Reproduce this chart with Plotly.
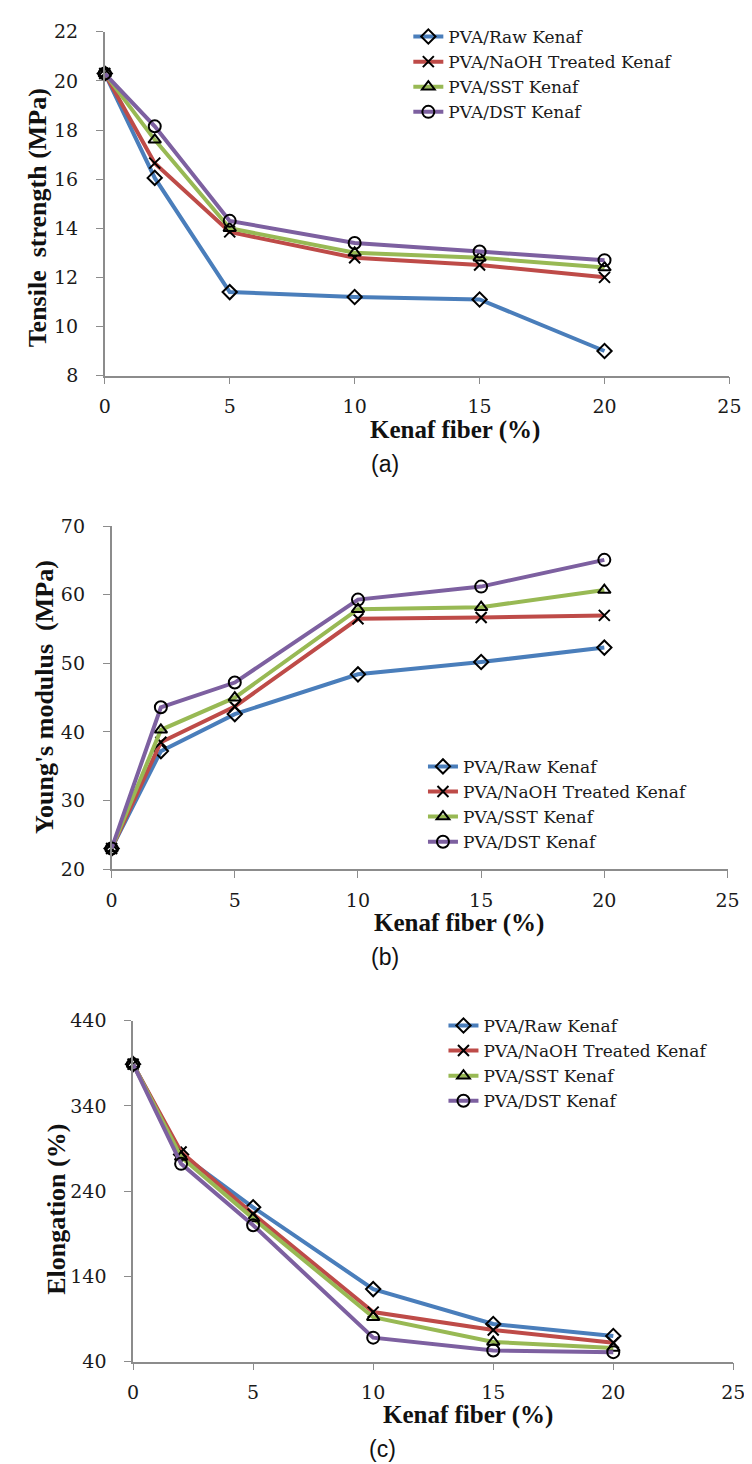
import plotly.graph_objects as go

W, H = 752, 1464

# ---------------- data ----------------
fiber = [0, 2, 5, 10, 15, 20]
series_names = ["PVA/Raw Kenaf", "PVA/NaOH Treated Kenaf", "PVA/SST Kenaf", "PVA/DST Kenaf"]

ts_raw = [20.3, 16.05, 11.4, 11.2, 11.1, 9.0]
ts_naoh = [20.3, 16.65, 13.85, 12.8, 12.5, 12.0]
ts_sst = [20.3, 17.6, 14.0, 13.0, 12.8, 12.4]
ts_dst = [20.3, 18.15, 14.3, 13.4, 13.05, 12.7]

ym_raw = [23.0, 37.2, 42.6, 48.4, 50.2, 52.3]
ym_naoh = [23.0, 38.5, 43.7, 56.5, 56.7, 57.0]
ym_sst = [23.0, 40.3, 45.0, 57.9, 58.2, 60.7]
ym_dst = [23.0, 43.6, 47.2, 59.3, 61.2, 65.1]

el_raw = [389, 283, 221, 125, 84, 70]
el_naoh = [389, 286, 213, 98, 77, 62]
el_sst = [389, 280, 208, 92, 63, 56]
el_dst = [389, 272, 200, 68, 53, 51]

x_ticks = [0, 5, 10, 15, 20, 25]
ts_ticks = [8, 10, 12, 14, 16, 18, 20, 22]
ym_ticks = [20, 30, 40, 50, 60, 70]
el_ticks = [40, 140, 240, 340, 440]

y_titles = ["Tensile  strength (MPa)", "Young's modulus  (MPa)", "Elongation (%)"]
x_title = "Kenaf fiber (%)"
panel_labels = ["(a)", "(b)", "(c)"]

# ---------------- style ----------------
colors = ["#4A7EBB", "#BE4B48", "#98B954", "#7D60A0"]
symbols = ["diamond-open", "x-thin-open", "triangle-up-open", "circle-open"]
msizes = [11, 11, 11, 12]
axis_col = "#8C8C8C"
tick_font = dict(family="DejaVu Serif", size=19, color="#1a1a1a")
ytitle_font = dict(family="Liberation Serif", size=26, color="#111111", weight="bold")
xtitle_font = dict(family="Liberation Serif", size=25, color="#111111", weight="bold")
legend_font = dict(family="DejaVu Serif", size=17, color="#1a1a1a")
label_font = dict(family="Liberation Sans", size=23, color="#111111")


def fx(px):
    return px / W


def fy(py):
    return 1 - py / H


# pixel boxes: (x_left, x_right, y_top, y_bottom)
boxes = [(93, 733, 13, 362), (100, 731, 515, 863), (122, 737, 1017, 1363)]
yranges = [[8, 22], [20, 70], [40, 440]]
yticks = [ts_ticks, ym_ticks, el_ticks]
panel_data = [
    [ts_raw, ts_naoh, ts_sst, ts_dst],
    [ym_raw, ym_naoh, ym_sst, ym_dst],
    [el_raw, el_naoh, el_sst, el_dst],
]
legend_pos = [(404, 0), (419, 741), (440, 1004)]
ytitle_pos = [(25, 202), (31, 688), (44, 1208)]
xtitle_pos = [(452, 417), (456, 918), (465, 1417)]
label_pos = [(380, 452), (380, 952), (378, 1452)]

fig = go.Figure()
layout = dict(
    width=W, height=H,
    margin=dict(l=0, r=0, t=0, b=0),
    paper_bgcolor="white", plot_bgcolor="white",
    showlegend=True,
    annotations=[],
)

for p in range(3):
    sfx = "" if p == 0 else str(p + 1)
    xa, ya = "x" + sfx, "y" + sfx
    lg = "legend" + sfx
    for i in range(4):
        fig.add_trace(go.Scatter(
            x=fiber, y=panel_data[p][i], name=series_names[i],
            mode="lines+markers", xaxis=xa, yaxis=ya, legend=lg,
            line=dict(color=colors[i], width=4),
            marker=dict(symbol=symbols[i], size=msizes[i], color="black",
                        line=dict(color="black", width=2)),
            cliponaxis=False,
        ))
    xl, xr, yt, yb = boxes[p]
    layout["xaxis" + sfx] = dict(
        domain=[fx(xl), fx(xr)], anchor=ya, range=[0, 25],
        tickvals=x_ticks, ticks="outside", ticklen=7, tickwidth=1.3,
        tickcolor=axis_col, showline=True, linecolor=axis_col, linewidth=1.5,
        showgrid=False, zeroline=False, tickfont=tick_font, ticklabelstandoff=6,
    )
    layout["yaxis" + sfx] = dict(
        domain=[fy(yb), fy(yt)], anchor=xa, range=yranges[p],
        tickvals=yticks[p], ticks="outside", ticklen=7, tickwidth=1.3,
        tickcolor=axis_col, showline=True, linecolor=axis_col, linewidth=1.5,
        showgrid=False, zeroline=False, tickfont=tick_font, ticklabelstandoff=14,
    )
    lx, ly = legend_pos[p]
    layout[lg] = dict(
        x=fx(lx), y=fy(ly), xanchor="left", yanchor="top",
        bgcolor="rgba(0,0,0,0)", font=legend_font, itemwidth=30,
        tracegroupgap=0,
    )
    tx, ty = ytitle_pos[p]
    layout["annotations"].append(dict(
        text="<b>%s</b>" % y_titles[p], x=fx(tx), y=fy(ty), xref="paper", yref="paper",
        xanchor="center", yanchor="middle", textangle=-90, showarrow=False,
        font=ytitle_font,
    ))
    tx, ty = xtitle_pos[p]
    layout["annotations"].append(dict(
        text="<b>%s</b>" % x_title, x=fx(tx), y=fy(ty), xref="paper", yref="paper",
        xanchor="center", yanchor="middle", showarrow=False, font=xtitle_font,
    ))
    tx, ty = label_pos[p]
    layout["annotations"].append(dict(
        text=panel_labels[p], x=fx(tx), y=fy(ty), xref="paper", yref="paper",
        xanchor="center", yanchor="middle", showarrow=False, font=label_font,
    ))

fig.update_layout(**layout)
fig.write_html("out.html")
